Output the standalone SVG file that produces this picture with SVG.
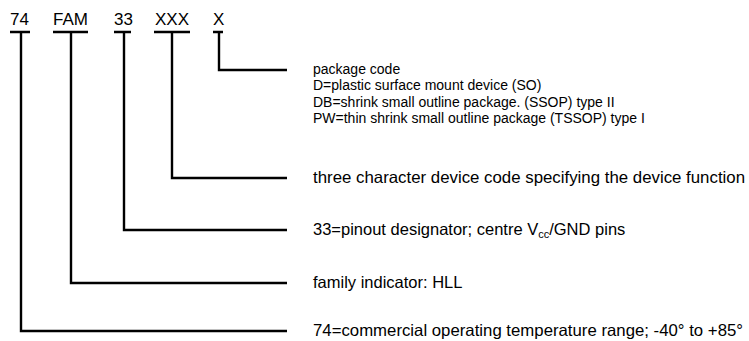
<svg xmlns="http://www.w3.org/2000/svg" width="749" height="341" viewBox="0 0 749 341">
<style>
.ln{fill:none;stroke:#000;stroke-width:2.4;stroke-linecap:butt;stroke-linejoin:miter}
.code{font-family:"Liberation Sans",Arial,sans-serif;font-size:17px;fill:#000}
.desc{font-family:"Liberation Sans",Arial,sans-serif;font-size:16.5px;fill:#000}
.pkg{font-family:"Liberation Sans",Arial,sans-serif;font-size:14px;fill:#000}
</style>
<rect width="749" height="341" fill="#fff"/>
<g id="connectors">
<path class="ln" d="M10,32 H30 M21,32 V331 H287"/>
<path class="ln" d="M53,32 H88 M71,32 V283 H287"/>
<path class="ln" d="M114,32 H131 M124,32 V230 H287"/>
<path class="ln" d="M154,32 H190 M172,32 V178 H287"/>
<path class="ln" d="M213,32 H223 M219,32 V70 H287"/>
</g>
<g id="code-74"><text class="code" x="10" y="25">74</text></g>
<g id="code-FAM"><text class="code" x="53" y="25">FAM</text></g>
<g id="code-33"><text class="code" x="114" y="25">33</text></g>
<g id="code-XXX"><text class="code" x="155" y="25">XXX</text></g>
<g id="code-X"><text class="code" x="213" y="25">X</text></g>
<g id="desc-package">
<text class="pkg" x="313" y="74">package code</text>
<text class="pkg" x="313" y="90.3">D=plastic surface mount device (SO)</text>
<text class="pkg" x="313" y="106.6">DB=shrink small outline package. (SSOP) type II</text>
<text class="pkg" x="313" y="122.9">PW=thin shrink small outline package (TSSOP) type I</text>
</g>
<g id="desc-device"><text class="desc" x="313" y="183" textLength="432" lengthAdjust="spacingAndGlyphs">three character device code specifying the device function</text></g>
<g id="desc-pinout"><text class="desc" x="313" y="235">33=pinout designator; centre V<tspan font-size="11" dy="3">cc</tspan><tspan dy="-3">/GND pins</tspan></text></g>
<g id="desc-family"><text class="desc" x="313" y="288">family indicator: HLL</text></g>
<g id="desc-temp"><text class="desc" x="313" y="336" textLength="430" lengthAdjust="spacingAndGlyphs">74=commercial operating temperature range; -40° to +85°</text></g>
</svg>
